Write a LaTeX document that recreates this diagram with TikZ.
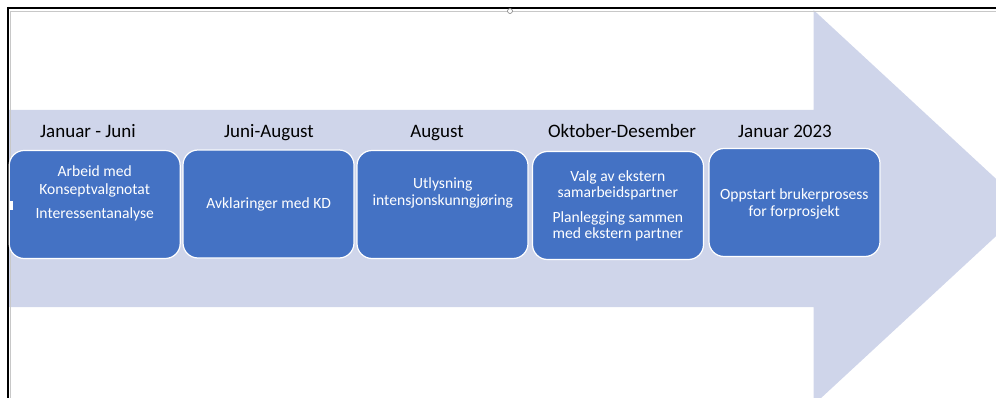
\documentclass[tikz,border=0pt]{standalone}
\usepackage{fontspec}
\setmainfont{Carlito}
\definecolor{arrowfill}{HTML}{CFD5EA}
\definecolor{boxfill}{HTML}{4472C4}
\definecolor{framegray}{HTML}{C8C8C8}
\begin{document}
\begin{tikzpicture}[x=1pt,y=-1pt,
  phase/.style={draw=white, line width=1.2pt, fill=boxfill, rounded corners=15pt,
    minimum width=171pt, minimum height=108pt, inner sep=0pt},
  hdr/.style={anchor=base, inner sep=0pt, font=\fontsize{19}{23}\selectfont, text=black},
  btxt/.style={anchor=base, inner sep=0pt, font=\fontsize{15.6}{18}\selectfont, text=white},
  handle/.style={draw=gray, fill=white, line width=0.6pt}]
\useasboundingbox (0,0) rectangle (996,398);
\begin{scope}
\clip (0,0) rectangle (996,398);
% big arrow
\fill[arrowfill] (9,110) -- (813.5,110) -- (813.5,10) -- (1027,207.5) -- (813.5,405) -- (813.5,307) -- (9,307) -- cycle;
% frame
\draw[framegray, line width=1pt] (10,11.5) -- (996,11.5);
\draw[framegray, line width=1pt] (10.5,11) -- (10.5,398);
\draw[black, line width=2pt] (7,8) -- (996,8);
\draw[black, line width=2pt] (8,7) -- (8,398);
\end{scope}
\draw[handle] (510,11) circle (2.5);

% boxes
\node[phase] (b1) at (94.7,204.5) {};
\node[phase] (b2) at (268.5,204) {};
\node[phase] (b3) at (442.5,204.5) {};
\node[phase] (b4) at (618,205.5) {};
\node[phase] (b5) at (794.5,202.5) {};

\fill[white] (8.5,201) rectangle (13,210);

% headers
\node[hdr] (h1) at (88,138) {Januar - Juni};
\node[hdr] (h2) at (269,138) {Juni-August};
\node[hdr] (h3) at (437,138) {August};
\node[hdr] (h4) at (622,138) {Oktober-Desember};
\node[hdr] (h5) at (785,138) {Januar 2023};

% box texts
\node[btxt] (t11) at (94.7,177) {Arbeid med};
\node[btxt] (t12) at (94.7,194.5) {Konseptvalgnotat};
\node[btxt] (t13) at (94.7,218.5) {Interessentanalyse};
\node[btxt] (t21) at (268.7,209) {Avklaringer med KD};
\node[btxt] (t31) at (442.8,188.5) {Utlysning};
\node[btxt] (t32) at (442.8,205.5) {intensjonskunngjøring};
\node[btxt] (t41) at (617.8,181.5) {Valg av ekstern};
\node[btxt] (t42) at (617.8,198) {samarbeidspartner};
\node[btxt] (t43) at (617.8,222.5) {Planlegging sammen};
\node[btxt] (t44) at (617.8,239) {med ekstern partner};
\node[btxt] (t51) at (794.3,199.5) {Oppstart brukerprosess};
\node[btxt] (t52) at (794.3,216.5) {for forprosjekt};
\end{tikzpicture}
\end{document}
